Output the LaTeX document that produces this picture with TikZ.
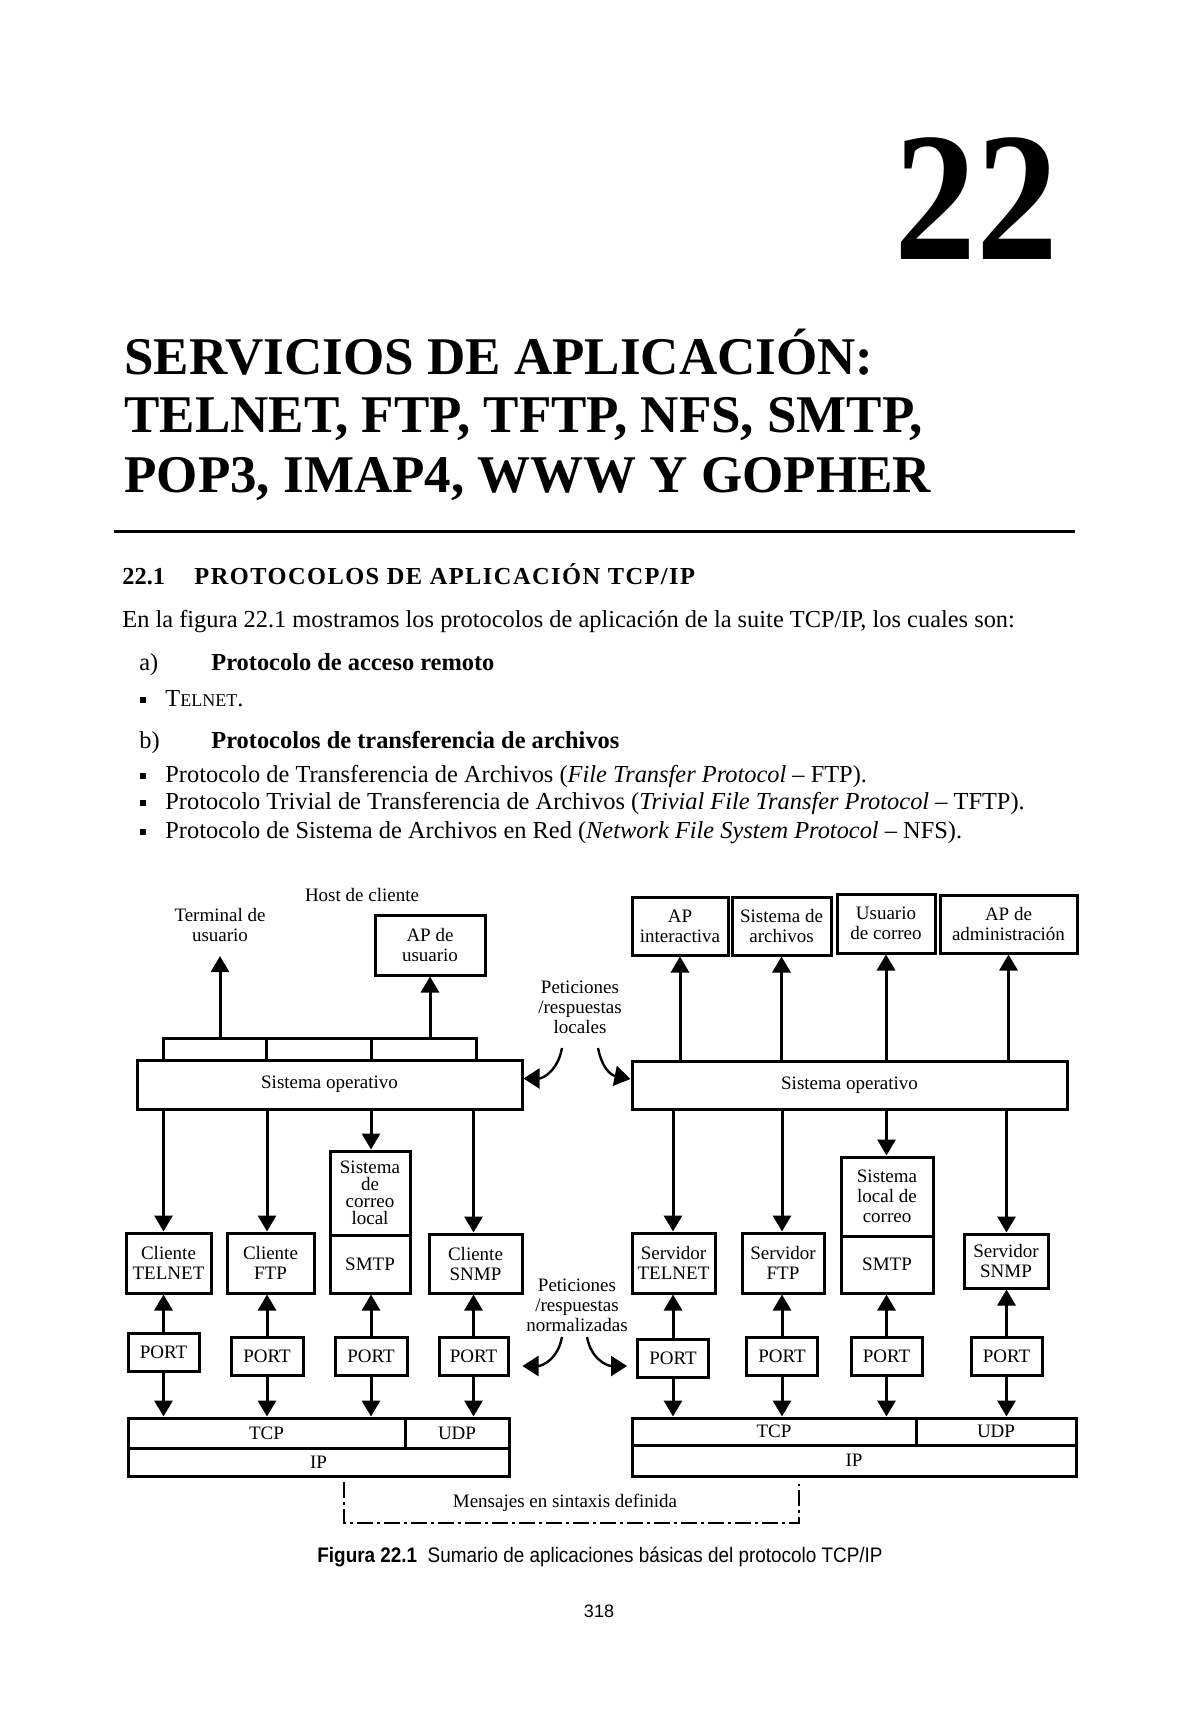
\documentclass[tikz,border=0pt]{standalone}
\usepackage{fontspec}
\setmainfont{Liberation Serif}
\setsansfont{Liberation Sans}
\newfontfamily\numfont[FakeStretch=0.89]{Liberation Serif}
\newfontfamily\leyendafont[FakeStretch=0.9]{Liberation Sans}
\usetikzlibrary{arrows.meta, positioning, calc}
\newcommand{\dgfont}{\fontsize{9.5}{10}\selectfont}
\newcommand{\cuerpo}{\rmfamily\fontsize{12.2}{14}\selectfont}

\begin{document}
\begin{tikzpicture}[x=0.5pt, y=-0.5pt,
  caja/.style={draw, line width=1.5pt, align=center, font=\dgfont, inner sep=0pt},
  rotulo/.style={align=center, font=\dgfont, inner sep=1pt},
  flecha/.style={line width=1.5pt, -{Triangle[length=8pt, width=9pt]}},
  curva/.style={line width=1.2pt, -{Triangle[length=8pt, width=10pt]}},
  linea/.style={anchor=base west, inner sep=0pt, font=\cuerpo},
  vineta/.style={fill, minimum size=3pt, inner sep=0pt}]
  \fill[white] (0,0) rectangle (1200,1716);
  \useasboundingbox (0,0) rectangle (1200,1716);

  % cabecera del capitulo
  \node[anchor=base east, inner sep=0pt, font=\numfont\bfseries\fontsize{92}{92}\selectfont] (capnum) at (1059,260) {22};
  \node[anchor=base west, inner sep=0pt, font=\bfseries\fontsize{26.5}{30}\selectfont] (tit1) at (124,375) {SERVICIOS DE APLICACIÓN:};
  \node[anchor=base west, inner sep=0pt, font=\bfseries\fontsize{26.5}{30}\selectfont] (tit2) at (124,433) {TELNET, FTP, TFTP, NFS, SMTP,};
  \node[anchor=base west, inner sep=0pt, font=\bfseries\fontsize{26.5}{30}\selectfont] (tit3) at (124,493) {POP3, IMAP4, WWW Y GOPHER};
  \draw[line width=1.5pt] (114,532) -- (1075,532);

  % texto
  \node[linea, font=\cuerpo\bfseries] (secnum) at (122,584) {22.1};
  \node[linea, font=\cuerpo\bfseries\addfontfeature{LetterSpace=6}] (sectit) at (194,584) {PROTOCOLOS DE APLICACIÓN TCP/IP};
  \node[linea] (par) at (122,627) {En la figura 22.1 mostramos los protocolos de aplicación de la suite TCP/IP, los cuales son:};
  \node[linea] (ia) at (139,670) {a)};
  \node[linea, font=\cuerpo\bfseries] (iat) at (211,670) {Protocolo de acceso remoto};
  \node[vineta] (v0) at (143,700) {};
  \node[linea] (tel) at (165,706) {T{\fontsize{9}{10}\selectfont ELNET}.};
  \node[linea] (ib) at (139,748) {b)};
  \node[linea, font=\cuerpo\bfseries] (ibt) at (211,748) {Protocolos de transferencia de archivos};
  \foreach \n/\y in {1/782, 2/809, 3/838}
    \node[vineta] (v\n) at (143,\y-6) {};
  \node[linea] (b1) at (165,782) {Protocolo de Transferencia de Archivos (\textit{File Transfer Protocol} – FTP).};
  \node[linea] (b2) at (165,809) {Protocolo Trivial de Transferencia de Archivos (\textit{Trivial File Transfer Protocol} – TFTP).};
  \node[linea] (b3) at (165,838) {Protocolo de Sistema de Archivos en Red (\textit{Network File System Protocol} – NFS).};

  % host de cliente
  \node[rotulo] (host) at (362,895) {Host de cliente};
  \node[rotulo] (term) at (220,925) {Terminal de\\usuario};
  \node[caja, minimum width=55pt, minimum height=30pt] (apusr) at (430,945) {AP de\\usuario};
  \node[caja, minimum width=192.5pt, minimum height=24.5pt] (soc) at (329.5,1084.5) {Sistema operativo};
  \foreach \n/\cx/\w in {1/214.5/51.5, 2/318.5/52.5, 3/423.5/52.5}
    \node[caja, minimum width=\w pt, minimum height=11pt] (ranura\n) at (\cx,1049) {};
  \draw[flecha] (ranura1.north -| term.south) -- ([yshift=-6pt]term.south);
  \draw[flecha] (ranura3.north -| apusr.south) -- (apusr.south);

  \node[caja, minimum width=42.5pt, minimum height=30pt] (ctel) at (168.5,1263) {Cliente\\TELNET};
  \node[caja, minimum width=43.5pt, minimum height=30pt] (cftp) at (270.5,1263) {Cliente\\FTP};
  \node[caja, minimum width=40pt, minimum height=42pt, font=\fontsize{9.5}{8.5}\selectfont] (csis) at (370,1193) {Sistema\\de\\correo\\local};
  \node[caja, minimum width=40pt, minimum height=29pt] (csmtp) at (370,1264) {SMTP};
  \node[caja, minimum width=46.5pt, minimum height=29.5pt] (csnmp) at (475.5,1263.5) {Cliente\\SNMP};
  \foreach \n/\cx/\cy/\w in {1/163.5/1352/35.5, 2/267/1356/36, 3/371/1356/36, 4/473.5/1356/34.5}
    \node[caja, minimum width=\w pt, minimum height=19pt] (pc\n) at (\cx,\cy) {PORT};
  \node[caja, minimum width=138.5pt, minimum height=15pt] (tcpc) at (266.5,1433) {TCP};
  \node[caja, minimum width=52pt, minimum height=15pt] (udpc) at (457,1433) {UDP};
  \node[caja, minimum width=190.5pt, minimum height=14pt] (ipc) at (318.5,1462) {IP};

  \foreach \n/\caj in {1/ctel, 2/cftp, 3/csis, 4/csnmp}
    \draw[flecha] (pc\n |- soc.south) -- (pc\n |- \caj.north);
  \foreach \n/\caj in {1/ctel, 2/cftp, 3/csmtp, 4/csnmp}
    \draw[flecha] (pc\n.north) -- (pc\n |- \caj.south);
  \foreach \n in {1,...,4}
    \draw[flecha] (pc\n.south) -- (pc\n |- tcpc.north);

  % host servidor
  \node[caja, minimum width=48pt, minimum height=29pt] (apint) at (680,926) {AP\\interactiva};
  \node[caja, minimum width=49.5pt, minimum height=29pt] (sarch) at (781.5,926) {Sistema de\\archivos};
  \node[caja, minimum width=49pt, minimum height=29.5pt] (ucor) at (886,923.5) {Usuario\\de correo};
  \node[caja, minimum width=68.5pt, minimum height=29pt] (apadm) at (1008.5,924) {AP de\\administración};
  \node[caja, minimum width=217.5pt, minimum height=24pt] (sos) at (849.5,1085) {Sistema operativo};
  \foreach \caj in {apint, sarch, ucor, apadm}
    \draw[flecha] (\caj.south |- sos.north) -- (\caj.south);

  \node[caja, minimum width=41.5pt, minimum height=30pt] (stel) at (673.5,1263) {Servidor\\TELNET};
  \node[caja, minimum width=41pt, minimum height=30pt] (sftp) at (783,1263) {Servidor\\FTP};
  \node[caja, minimum width=46pt, minimum height=39.5pt] (ssis) at (887,1196.5) {Sistema\\local de\\correo};
  \node[caja, minimum width=46pt, minimum height=28.5pt] (ssmtp) at (887,1264.5) {SMTP};
  \node[caja, minimum width=42pt, minimum height=27pt] (ssnmp) at (1006,1261) {Servidor\\SNMP};
  \foreach \n/\cx/\cy in {1/673/1358, 2/782/1356, 3/886.5/1356, 4/1006.5/1356}
    \node[caja, minimum width=35.5pt, minimum height=19pt] (ps\n) at (\cx,\cy) {PORT};
  \node[caja, minimum width=142pt, minimum height=13.5pt] (tcps) at (774,1431.5) {TCP};
  \node[caja, minimum width=80pt, minimum height=13.5pt] (udps) at (996,1431.5) {UDP};
  \node[caja, minimum width=222pt, minimum height=15.5pt] (ips) at (854,1460.5) {IP};

  \foreach \n/\caj in {1/stel, 2/sftp, 3/ssis, 4/ssnmp}
    \draw[flecha] (ps\n |- sos.south) -- (ps\n |- \caj.north);
  \foreach \n/\caj in {1/stel, 2/sftp, 3/ssmtp, 4/ssnmp}
    \draw[flecha] (ps\n.north) -- (ps\n |- \caj.south);
  \foreach \n in {1,...,4}
    \draw[flecha] (ps\n.south) -- (ps\n |- tcps.north);

  % peticiones entre hosts
  \node[rotulo] (loc) at (580,1007) {Peticiones\\/respuestas\\locales};
  \coordinate (locA) at (562,1048);
  \coordinate (locB) at (598,1048);
  \draw[curva] (locA) .. controls +(-4,22) and +(20,0) .. ([yshift=3pt]soc.east);
  \draw[curva] (locB) .. controls +(4,20) and +(-20,-4) .. ([yshift=3pt]sos.west);
  \node[rotulo] (norm) at (577,1305) {Peticiones\\/respuestas\\normalizadas};
  \coordinate (normA) at (562,1337);
  \coordinate (normB) at (587,1337);
  \draw[curva] (normA) .. controls +(-4,22) and +(20,0) .. ([xshift=6.5pt,yshift=-5pt]pc4.east);
  \draw[curva] (normB) .. controls +(4,22) and +(-20,0) .. ([xshift=-4.5pt,yshift=-4pt]ps1.west);

  % mensajes
  \node[rotulo] (msg) at (565,1503) {Mensajes en sintaxis definida};
  \coordinate (mizq) at (344,1482);
  \coordinate (mder) at (799,1484);
  \draw[line width=1pt, dash pattern=on 8pt off 2pt on 1.5pt off 2pt] (mizq) -- (344,1523) -- (799,1523) -- (mder);

  % pie
  \node[inner sep=0pt, font=\leyendafont\fontsize{10.5}{12}\selectfont] (leyenda) at (600,1557) {\textbf{Figura 22.1}\enspace Sumario de aplicaciones básicas del protocolo TCP/IP};
  \node[inner sep=0pt, font=\sffamily\fontsize{9}{10}\selectfont] (pagina) at (599,1611) {318};
\end{tikzpicture}
\end{document}
